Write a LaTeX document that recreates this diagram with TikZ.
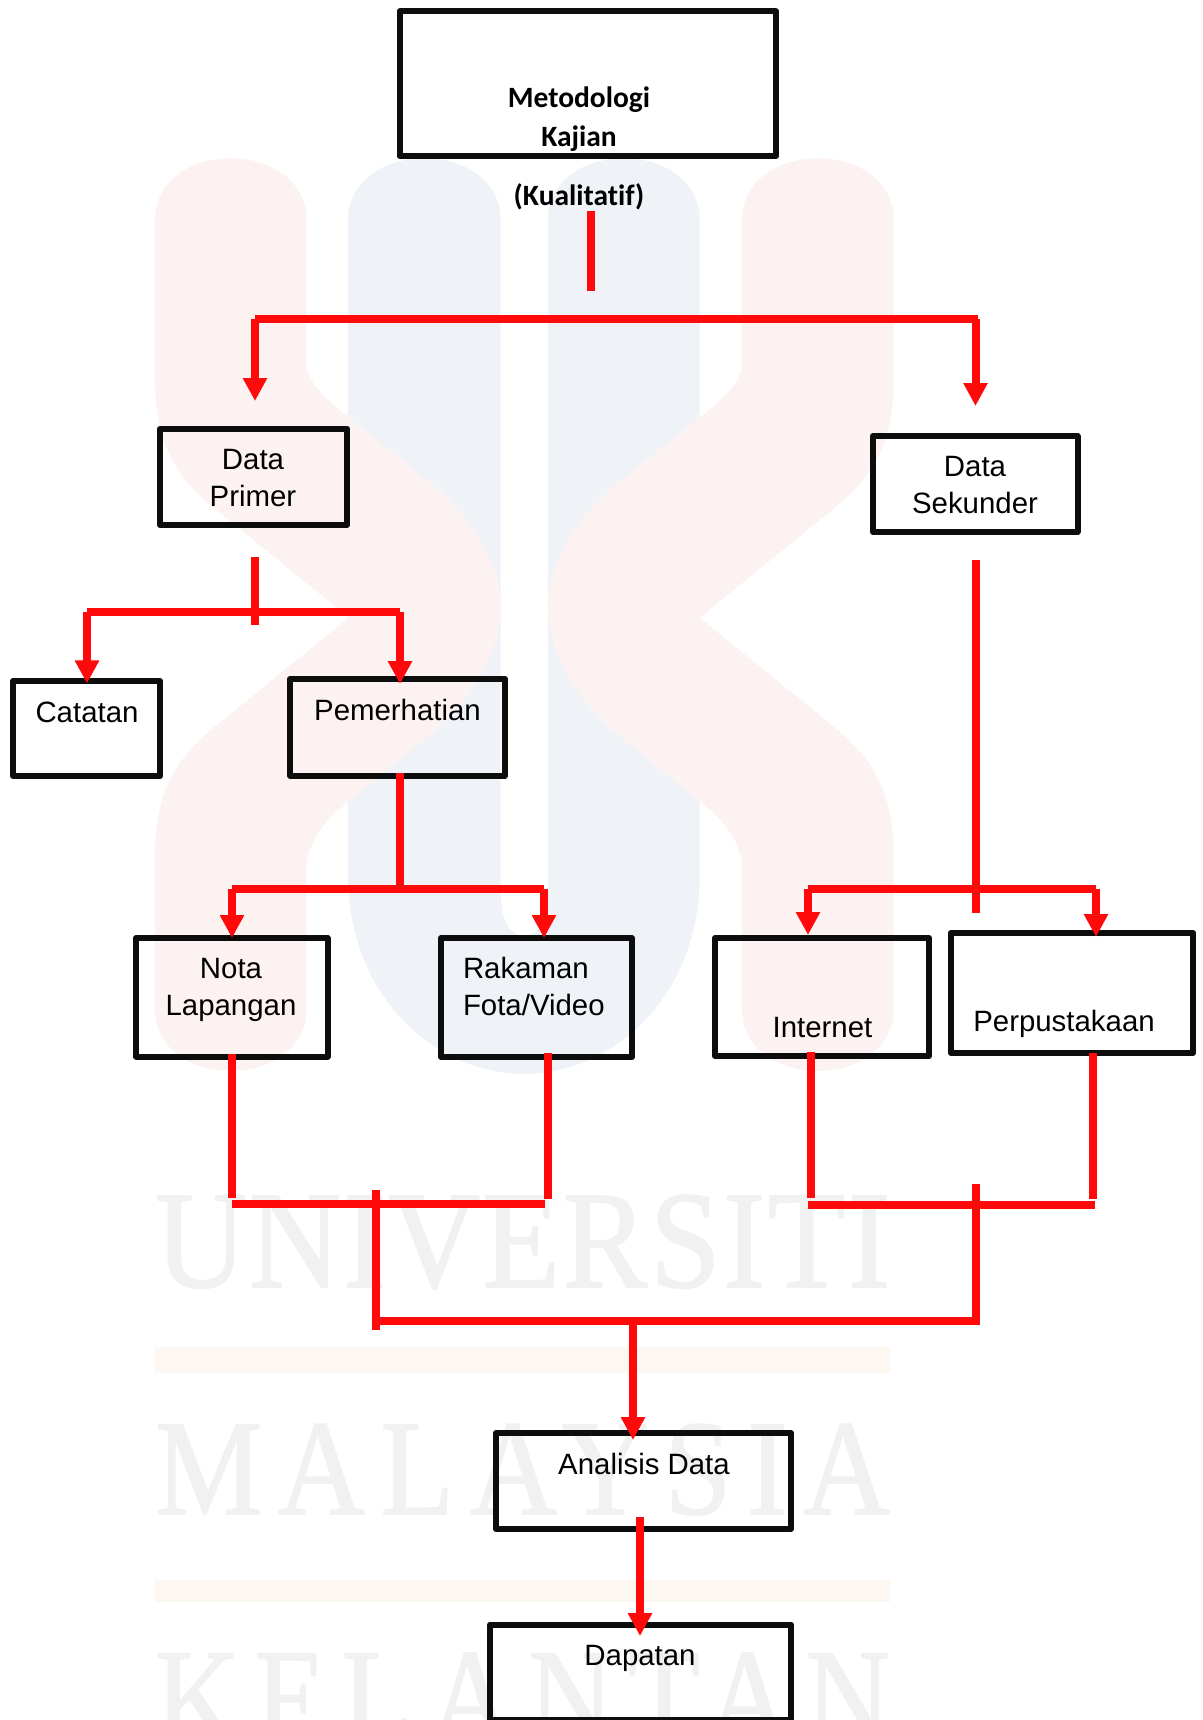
\documentclass[tikz,border=0pt]{standalone}
\usepackage{fontspec}
\usepackage{graphicx}
\setmainfont{Liberation Sans}
\newfontfamily\boldf[Ligatures=NoCommon]{Carlito}
\newfontfamily\wmfa[FakeBold=1.2,LetterSpace=2]{Liberation Serif}
\newfontfamily\wmfb[FakeBold=1.2,LetterSpace=13]{Liberation Serif}
\usetikzlibrary{arrows.meta}
\definecolor{wmpink}{HTML}{FDF2F2}
\definecolor{wmblue}{HTML}{EFF3F8}
\definecolor{wmband}{HTML}{FDF7F1}
\definecolor{wmtext}{HTML}{F1F1F1}
\definecolor{boxline}{HTML}{0D0D0D}
\definecolor{conn}{HTML}{FF0A0A}
\tikzset{
  boxn/.style={draw=boxline,line width=6pt,rectangle,inner sep=0pt,outer sep=0pt,line join=round},
  lbl/.style={inner sep=0pt,outer sep=0pt,text=black,align=center,font=\fontsize{29.4}{36.5}\selectfont},
  blbl/.style={inner sep=0pt,outer sep=0pt,text=black,align=center,font=\fontsize{29.5}{39}\selectfont\boldf\bfseries},
  ln/.style={draw=conn,line width=8pt},
  arr/.style={draw=conn,line width=8pt,-{Triangle[width=23pt,length=23pt]}},
  wmword/.style={inner sep=0pt,outer sep=0pt,anchor=north west,text=wmtext}
}
\newcommand{\kshape}{
  (30,130) .. controls (30,75) and (90,30) .. (182,30) .. controls (275,30) and (335,75) .. (335,130)
  -- (335,375) .. controls (345,400) and (370,420) .. (400,440)
  -- (600,570) .. controls (680,630) and (725,700) .. (725,760)
  .. controls (725,830) and (680,900) .. (600,960)
  -- (390,1100) .. controls (360,1125) and (340,1150) .. (335,1180)
  -- (335,1420) .. controls (335,1475) and (275,1520) .. (182,1520) .. controls (90,1520) and (30,1475) .. (30,1420)
  -- (30,1170) .. controls (30,1080) and (60,1020) .. (140,965)
  -- (420,780) -- (140,595) .. controls (60,540) and (30,480) .. (30,390) -- cycle}
\begin{document}
\begin{tikzpicture}[x=1pt,y=-1pt]
\clip (0,0) rectangle (1202,1720);
\fill[white] (0,0) rectangle (1202,1720);
% watermark
\begin{scope}[shift={(140,140)},xscale=0.4975,yscale=0.6124]
  \fill[wmblue] (418,130) .. controls (418,75) and (480,30) .. (571,30) .. controls (665,30) and (725,75) .. (725,130)
    -- (725,1230) .. controls (725,1275) and (745,1300) .. (772,1300) .. controls (800,1300) and (820,1275) .. (820,1230)
    -- (820,130) .. controls (820,75) and (880,30) .. (973,30) .. controls (1065,30) and (1125,75) .. (1125,130)
    -- (1125,1200) .. controls (1125,1400) and (950,1525) .. (772,1525) .. controls (595,1525) and (418,1400) .. (418,1200) -- cycle;
  \fill[wmpink] \kshape;
\end{scope}
\begin{scope}[shift={(908.6,140)},xscale=-0.4975,yscale=0.6124]
  \fill[wmpink] \kshape;
\end{scope}
\fill[wmband] (155,1347) rectangle (890,1373);
\fill[wmband] (155,1580) rectangle (890,1602);
\node[wmword] (wm1) at (155,1195) {\resizebox{735pt}{92pt}{\wmfa UNIVERSITI}};
\node[wmword] (wm2) at (155,1424) {\resizebox{735pt}{90pt}{\wmfb MALAYSIA}};
\node[wmword] (wm3) at (155,1653) {\resizebox{735pt}{92pt}{\wmfb KELANTAN}};
% boxes
\node[boxn,minimum width=376.5pt,minimum height=144.5pt] (met) at (587.75,83.75) {};
\node[boxn,minimum width=187pt,minimum height=96.4pt] (dp) at (253.5,476.8) {};
\node[boxn,minimum width=204.5pt,minimum height=96pt] (ds) at (975.25,484) {};
\node[boxn,minimum width=147pt,minimum height=95pt] (cat) at (86.5,728.5) {};
\node[boxn,minimum width=215pt,minimum height=96.7pt] (pem) at (397.5,727.35) {};
\node[boxn,minimum width=191.5pt,minimum height=118.5pt] (nota) at (231.75,997.25) {};
\node[boxn,minimum width=191pt,minimum height=119pt] (rak) at (536.5,997.5) {};
\node[boxn,minimum width=214pt,minimum height=118pt] (int) at (822,997) {};
\node[boxn,minimum width=242pt,minimum height=120.4pt] (per) at (1072,992.8) {};
\node[boxn,minimum width=295pt,minimum height=96pt] (ana) at (643.5,1481) {};
\node[boxn,minimum width=301pt,minimum height=95.5pt] (dap) at (640.5,1672.25) {};
% labels
\node[blbl,anchor=base] (metT) at (579,146.3) {Metodologi\\Kajian};
\node[blbl,anchor=base] (kual) at (579,205.7) {(Kualitatif)};
\node[lbl,anchor=base] (dpT) at (253,506) {Data\\Primer};
\node[lbl,anchor=base] (dsT) at (975,513.3) {Data\\Sekunder};
\node[lbl,anchor=base] (catT) at (87,722.5) {Catatan};
\node[lbl,anchor=base] (pemT) at (397.5,720) {Pemerhatian};
\node[lbl,anchor=base] (notaT) at (231,1015.3) {Nota\\Lapangan};
\node[lbl,anchor=base west,align=left] (rakT) at (463,1015.3) {Rakaman\\Fota/Video};
\node[lbl,anchor=base] (intT) at (822.5,1037) {Internet};
\node[lbl,anchor=base] (perT) at (1064,1031) {Perpustakaan};
\node[lbl,anchor=base] (anaT) at (644,1474) {Analisis Data};
\node[lbl,anchor=base] (dapT) at (640,1665.5) {Dapatan};
% junctions
\coordinate (a0) at (591,211);
\coordinate (a1) at (591,291);
\coordinate (aL) at (255,319);
\coordinate (aR) at (978,319);
\coordinate (aS) at (975.5,319);
\coordinate (aLt) at (255,401);
\coordinate (aRt) at (975.5,406);
\coordinate (b0) at (255,557);
\coordinate (b1) at (255,625);
\coordinate (bL) at (87,612);
\coordinate (bR) at (400,612);
\coordinate (c0) at (976,560);
\coordinate (c1) at (976,913);
\coordinate (dL) at (232,889);
\coordinate (dM) at (400,889);
\coordinate (dR) at (544,889);
\coordinate (eL) at (808,889);
\coordinate (eR) at (1096,889);
\coordinate (fL) at (232,1204);
\coordinate (fR) at (545,1204);
\coordinate (fLe) at (232,1198);
\coordinate (fRe) at (547.5,1199);
\coordinate (gL) at (808,1205);
\coordinate (gR) at (1095,1205);
\coordinate (gLe) at (811,1198);
\coordinate (gRe) at (1093,1199);
\coordinate (hL) at (376,1190);
\coordinate (hLb) at (376,1330);
\coordinate (hR) at (976,1184);
\coordinate (hB) at (976,1325);
\coordinate (hBL) at (376,1321);
\coordinate (hBR) at (980,1321);
\coordinate (hM) at (633,1321);
\coordinate (iT) at (640,1517);
% connectors
\draw[ln] (a0) -- (a1);
\draw[ln] (aL) -- (aR);
\draw[arr] (aL) -- (aLt);
\draw[arr] (aS) -- (aRt);
\draw[ln] (b0) -- (b1);
\draw[ln] (bL) -- (bR);
\draw[arr,shorten >=-2.4pt] (bL) -- (bL |- cat.north);
\draw[arr,shorten >=-5pt] (bR) -- (bR |- pem.north);
\draw[ln] (c0) -- (c1);
\draw[ln,shorten <=-3pt] (pem.south -| dM) -- (dM);
\draw[ln] (dL) -- (dR);
\draw[arr] (dL) -- (dL |- nota.north);
\draw[arr] (dR) -- (dR |- rak.north);
\draw[ln] (eL) -- (eR);
\draw[arr,shorten >=3pt] (eL) -- (eL |- int.north);
\draw[arr,shorten >=-4.4pt] (eR) -- (eR |- per.north);
\draw[ln,shorten <=-3pt] (nota.south -| fLe) -- (fLe);
\draw[ln,shorten <=-4pt] (rak.south -| fRe) -- (fRe);
\draw[ln,shorten <=-4pt] (int.south -| gLe) -- (gLe);
\draw[ln] (per.south -| gRe) -- (gRe);
\draw[ln] (fL) -- (fR);
\draw[ln] (gL) -- (gR);
\draw[ln] (hL) -- (hLb);
\draw[ln] (hR) -- (hB);
\draw[ln] (hBL) -- (hBR);
\draw[arr,shorten >=-7pt] (hM) -- (hM |- ana.north);
\draw[arr,shorten >=-11.5pt] (iT) -- (iT |- dap.north);
\end{tikzpicture}
\end{document}
